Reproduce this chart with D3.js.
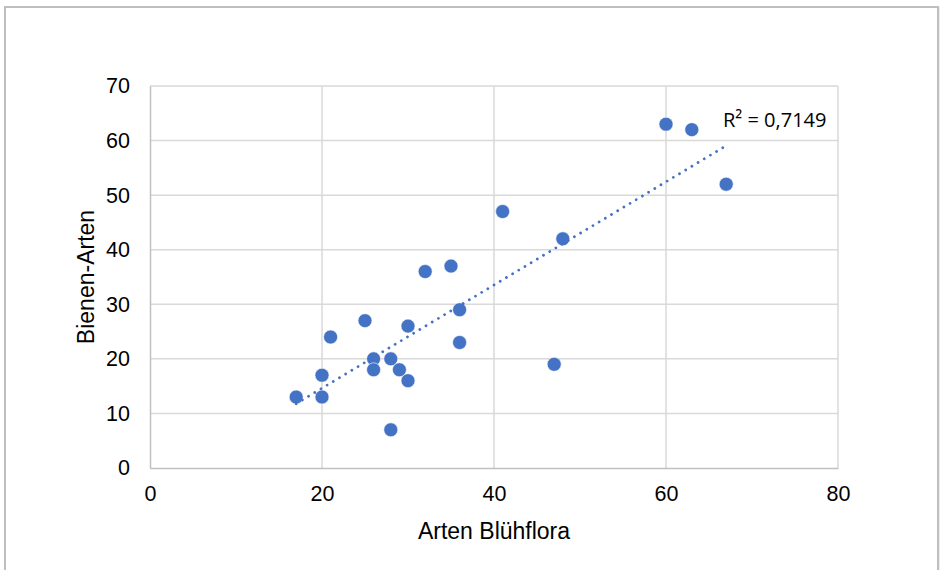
<!DOCTYPE html>
<html>
<head>
<meta charset="utf-8">
<script src="https://cdn.jsdelivr.net/npm/d3@7"></script>
<style>
  html, body { margin: 0; padding: 0; background: #fff; }
  svg { display: block; }
</style>
</head>
<body>
<svg id="chart" width="940" height="570"></svg>
<script>
// Data
const floraSpecies = [17, 20, 20, 21, 25, 26, 26, 28, 28, 29, 30, 30, 32, 35, 36, 36, 41, 47, 48, 60, 63, 67];
const beeSpecies   = [13, 17, 13, 24, 27, 20, 18, 20,  7, 18, 26, 16, 36, 37, 29, 23, 47, 19, 42, 63, 62, 52];
const xTicks = [0, 20, 40, 60, 80];
const yTicks = [0, 10, 20, 30, 40, 50, 60, 70];
const xTitle = "Arten Blühflora";
const yTitle = "Bienen-Arten";
const r2Label = "R² = 0,7149";

const svg = d3.select("#chart");
const plot = { left: 150, right: 838, top: 86, bottom: 468 };

// outer chart border (cropped at right/bottom)
svg.append("rect")
  .attr("x", 5).attr("y", 7)
  .attr("width", 933).attr("height", 600)
  .attr("fill", "#fff")
  .attr("stroke", "#bfbfbf").attr("stroke-width", 2);
svg.append("line")
  .attr("x1", 939.5).attr("x2", 939.5).attr("y1", 7).attr("y2", 570)
  .attr("stroke", "#ececec").attr("stroke-width", 1);

const x = d3.scaleLinear().domain([0, 80]).range([plot.left, plot.right]);
const y = d3.scaleLinear().domain([0, 70]).range([plot.bottom, plot.top]);

const font = "'Liberation Sans', Arial, sans-serif";

// gridlines
const grid = svg.append("g");
grid.selectAll("line.h").data(yTicks.filter(d => d !== 0)).join("line")
  .attr("x1", plot.left).attr("x2", plot.right)
  .attr("y1", d => y(d)).attr("y2", d => y(d))
  .attr("stroke", "#d9d9d9").attr("stroke-width", 1.5);
grid.selectAll("line.v").data(xTicks.filter(d => d !== 0)).join("line")
  .attr("y1", plot.top).attr("y2", plot.bottom)
  .attr("x1", d => x(d)).attr("x2", d => x(d))
  .attr("stroke", "#d9d9d9").attr("stroke-width", 1.5);

// axes via d3
const xAxis = svg.append("g")
  .attr("transform", `translate(0,${plot.bottom})`)
  .call(d3.axisBottom(x).tickValues(xTicks).tickSize(0).tickPadding(18).tickFormat(d3.format("d")));
const yAxis = svg.append("g")
  .attr("transform", `translate(${plot.left},0)`)
  .call(d3.axisLeft(y).tickValues(yTicks).tickSize(0).tickPadding(20).tickFormat(d3.format("d")));
[xAxis, yAxis].forEach(a => {
  a.select(".domain").attr("stroke", "#c0c0c0").attr("stroke-width", 1.5);
  a.selectAll("text").attr("font-family", font).attr("font-size", 21.5).attr("fill", "#000");
});

// axis titles
svg.append("text")
  .attr("x", (plot.left + plot.right) / 2).attr("y", 539)
  .attr("text-anchor", "middle")
  .attr("font-family", font).attr("font-size", 23).attr("fill", "#000")
  .text(xTitle);
svg.append("text")
  .attr("transform", `translate(94,${(plot.top + plot.bottom) / 2}) rotate(-90)`)
  .attr("text-anchor", "middle")
  .attr("font-family", font).attr("font-size", 23).attr("fill", "#000")
  .text(yTitle);

// linear trendline computed from the data
const n = floraSpecies.length;
const mx = d3.mean(floraSpecies), my = d3.mean(beeSpecies);
let sxy = 0, sxx = 0;
for (let i = 0; i < n; i++) {
  sxy += (floraSpecies[i] - mx) * (beeSpecies[i] - my);
  sxx += (floraSpecies[i] - mx) ** 2;
}
const slope = sxy / sxx, intercept = my - slope * mx;
const [xmin, xmax] = d3.extent(floraSpecies);

// points
const pts = floraSpecies.map((f, i) => ({ f, b: beeSpecies[i] }));
svg.append("g").selectAll("circle").data(pts).join("circle")
  .attr("cx", d => x(d.f)).attr("cy", d => y(d.b))
  .attr("r", 7)
  .attr("fill", "#4472C4")
  .attr("stroke", "#fff").attr("stroke-width", 0.6);

svg.append("line")
  .attr("x1", x(xmin)).attr("y1", y(intercept + slope * xmin))
  .attr("x2", x(xmax)).attr("y2", y(intercept + slope * xmax))
  .attr("stroke", "#4472C4").attr("stroke-width", 2.8)
  .attr("stroke-linecap", "round")
  .attr("stroke-dasharray", "0.01 7.2");

// R² label
svg.append("text")
  .attr("x", 723).attr("y", 127)
  .attr("font-family", "'Open Sans', Lato, sans-serif").attr("font-size", 20).attr("fill", "#000")
  .text(r2Label);
</script>
</body>
</html>
